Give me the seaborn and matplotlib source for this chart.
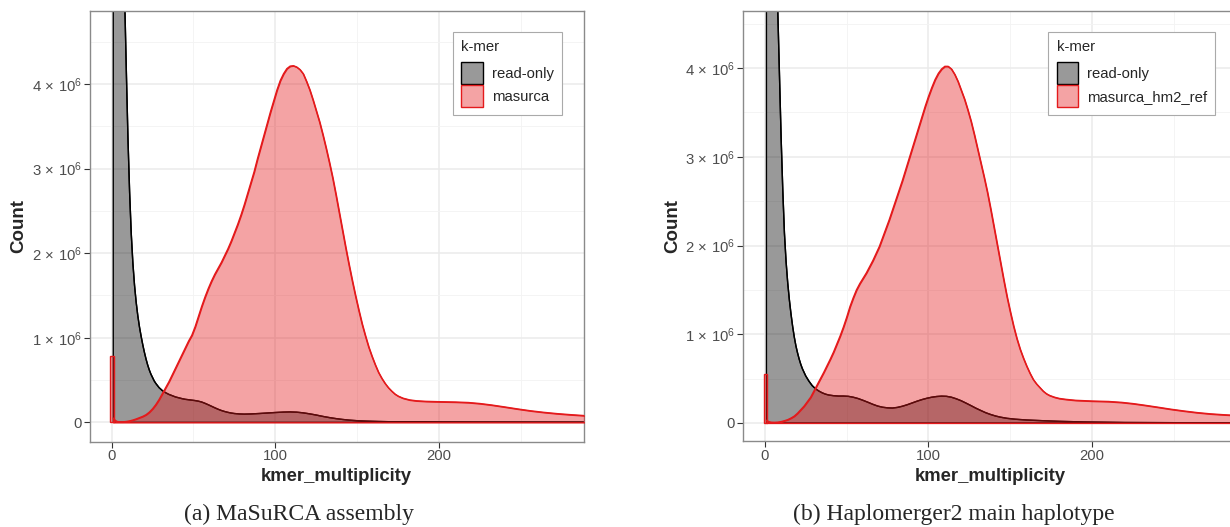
import numpy as np
import pandas as pd
import matplotlib
matplotlib.use("Agg")
import matplotlib.pyplot as plt
import seaborn as sns
from matplotlib.patches import Patch
from matplotlib.ticker import FixedLocator, MultipleLocator

# ---------------- data (counts in units of 1e6) ----------------
# Panel (a) MaSuRCA assembly: read-only k-mers
a_ro_x = [1, 2, 3, 4, 5, 6, 7, 8, 9, 10, 11, 12, 13, 14, 15, 16, 17, 18, 19, 20, 21, 22, 23, 24,
          25, 26, 27, 29, 31, 33, 35, 37, 39, 41, 43, 45, 47, 49, 51, 53, 55, 57, 59, 61, 63, 65,
          67, 69, 71, 73, 75, 78, 81, 85, 90, 95, 100, 105, 109, 113, 117, 121, 125, 129, 133,
          137, 141, 145, 150, 156, 163, 170, 180, 200, 230, 300]
a_ro_y = [150, 60, 25, 14, 9.5, 7.2, 5.9, 5.0, 4.15, 3.35, 2.72, 2.23, 1.88, 1.62, 1.42, 1.26,
          1.13, 1.02, 0.92, 0.83, 0.75, 0.68, 0.62, 0.57, 0.53, 0.49, 0.46, 0.41, 0.375, 0.35,
          0.33, 0.315, 0.30, 0.29, 0.28, 0.272, 0.267, 0.262, 0.257, 0.25, 0.24, 0.225, 0.208,
          0.19, 0.172, 0.155, 0.14, 0.128, 0.118, 0.11, 0.104, 0.099, 0.097, 0.099, 0.104, 0.11,
          0.116, 0.121, 0.123, 0.12, 0.112, 0.10, 0.086, 0.07, 0.056, 0.044, 0.034, 0.026, 0.019,
          0.014, 0.01, 0.007, 0.004, 0.002, 0.001, 0.0]
# Panel (a): assembly k-mers
a_asm_x = [1, 2, 3, 4, 5, 7, 9, 11, 13, 15, 17, 19, 21, 23, 25, 27, 29, 31, 33, 35, 37, 39, 41,
           43, 45, 47, 49, 51, 53, 55, 57, 59, 61, 63, 65, 67, 69, 71, 73, 75, 77, 79, 81, 83, 85,
           87, 89, 91, 93, 95, 97, 99, 101, 103, 105, 107, 109, 111, 113, 115, 117, 119, 121, 123,
           125, 127, 129, 131, 133, 135, 137, 139, 141, 143, 145, 147, 149, 151, 153, 155, 157,
           159, 161, 163, 165, 167, 169, 171, 173, 175, 178, 182, 186, 192, 200, 210, 218, 225,
           232, 240, 248, 256, 264, 272, 280, 290, 300]
a_asm_y = [0.05, 0.025, 0.012, 0.008, 0.006, 0.006, 0.01, 0.017, 0.027, 0.04, 0.055, 0.07, 0.09,
           0.12, 0.16, 0.21, 0.27, 0.34, 0.41, 0.48, 0.56, 0.64, 0.72, 0.80, 0.88, 0.96, 1.03,
           1.13, 1.25, 1.37, 1.48, 1.58, 1.67, 1.75, 1.82, 1.89, 1.97, 2.05, 2.14, 2.24, 2.34,
           2.45, 2.57, 2.70, 2.83, 2.96, 3.11, 3.25, 3.39, 3.53, 3.67, 3.80, 3.93, 4.04, 4.12,
           4.18, 4.21, 4.215, 4.20, 4.17, 4.12, 4.03, 3.93, 3.81, 3.68, 3.55, 3.40, 3.24, 3.07,
           2.89, 2.69, 2.48, 2.27, 2.06, 1.86, 1.67, 1.49, 1.32, 1.16, 1.02, 0.89, 0.78, 0.68,
           0.59, 0.52, 0.46, 0.41, 0.37, 0.335, 0.31, 0.285, 0.265, 0.255, 0.248, 0.244, 0.240,
           0.234, 0.222, 0.205, 0.182, 0.158, 0.136, 0.118, 0.103, 0.091, 0.078, 0.07]
a_zero_x = 0
a_zero_y = 0.784

# Panel (b) Haplomerger2 main haplotype: read-only k-mers
b_ro_x = [1, 2, 3, 4, 5, 6, 7, 8, 9, 10, 11, 12, 13, 14, 15, 16, 17, 18, 19, 20, 21, 22, 23, 24,
          25, 27, 29, 31, 33, 35, 37, 39, 42, 45, 48, 51, 54, 57, 60, 63, 66, 69, 72, 75, 78, 81,
          84, 87, 90, 93, 96, 99, 102, 105, 108, 111, 114, 117, 120, 123, 126, 129, 132, 135,
          138, 141, 144, 148, 153, 160, 170, 180, 195, 220, 260, 300]
b_ro_y = [150, 60, 25, 14, 9.3, 6.9, 5.5, 4.6, 3.9, 3.2, 2.62, 2.14, 1.82, 1.58, 1.39, 1.23,
          1.09, 0.97, 0.87, 0.79, 0.72, 0.66, 0.61, 0.57, 0.53, 0.47, 0.42, 0.385, 0.36, 0.34,
          0.325, 0.315, 0.307, 0.303, 0.303, 0.30, 0.29, 0.275, 0.255, 0.233, 0.21, 0.19, 0.177,
          0.17, 0.168, 0.175, 0.188, 0.205, 0.225, 0.245, 0.263, 0.278, 0.29, 0.298, 0.302, 0.30,
          0.29, 0.272, 0.25, 0.223, 0.195, 0.166, 0.14, 0.115, 0.095, 0.078, 0.065, 0.052, 0.042,
          0.033, 0.025, 0.018, 0.011, 0.005, 0.002, 0.0]
# Panel (b): assembly k-mers
b_asm_x = [1, 2, 3, 4, 6, 8, 10, 12, 14, 16, 18, 20, 22, 24, 26, 28, 30, 32, 34, 36, 38, 40, 42,
           44, 46, 48, 50, 52, 54, 56, 58, 60, 62, 64, 66, 68, 70, 72, 74, 76, 78, 80, 82, 84, 86,
           88, 90, 92, 94, 96, 98, 100, 102, 104, 106, 108, 110, 112, 114, 116, 118, 120, 122,
           124, 126, 128, 130, 132, 134, 136, 138, 140, 142, 144, 146, 148, 150, 152, 154, 156,
           158, 160, 162, 164, 166, 168, 170, 172, 174, 177, 180, 184, 190, 200, 210, 218, 225,
           232, 240, 248, 256, 264, 272, 280, 290, 300]
b_asm_y = [0.03, 0.018, 0.011, 0.008, 0.007, 0.009, 0.015, 0.025, 0.037, 0.055, 0.077, 0.11,
           0.15, 0.19, 0.24, 0.29, 0.36, 0.43, 0.50, 0.57, 0.645, 0.72, 0.80, 0.89, 0.98, 1.08,
           1.19, 1.31, 1.41, 1.50, 1.57, 1.63, 1.69, 1.76, 1.83, 1.91, 1.99, 2.09, 2.19, 2.29,
           2.40, 2.51, 2.62, 2.73, 2.85, 2.97, 3.09, 3.21, 3.33, 3.45, 3.57, 3.68, 3.78, 3.87,
           3.94, 3.99, 4.02, 4.02, 3.99, 3.93, 3.85, 3.75, 3.65, 3.53, 3.40, 3.25, 3.09, 2.93,
           2.77, 2.60, 2.41, 2.21, 2.01, 1.81, 1.61, 1.42, 1.25, 1.09, 0.95, 0.83, 0.73, 0.64,
           0.56, 0.49, 0.44, 0.40, 0.36, 0.33, 0.31, 0.29, 0.276, 0.266, 0.255, 0.247, 0.242,
           0.232, 0.218, 0.20, 0.178, 0.155, 0.135, 0.117, 0.103, 0.093, 0.083, 0.077]
b_zero_x = 0
b_zero_y = 0.548

x_ticks = [0, 100, 200]
y_ticks_m = [0, 1, 2, 3, 4]
y_tick_labels = ["0", r"$1\,\times\,10^{6}$", r"$2\,\times\,10^{6}$", r"$3\,\times\,10^{6}$",
                 r"$4\,\times\,10^{6}$"]
series_names_a = ["read-only", "masurca"]
series_names_b = ["read-only", "masurca_hm2_ref"]
captions = ["(a) MaSuRCA assembly", "(b) Haplomerger2 main haplotype"]

# ---------------- style ----------------
sns.set_theme(style="white")
plt.rcParams["font.family"] = ["Liberation Sans", "DejaVu Sans"]
plt.rcParams["mathtext.fontset"] = "custom"
plt.rcParams["mathtext.rm"] = "Liberation Sans"
plt.rcParams["mathtext.it"] = "Liberation Sans:italic"
plt.rcParams["mathtext.bf"] = "Liberation Sans:bold"

RED = "#E41A1C"
RED_FILL = (228 / 255, 26 / 255, 28 / 255, 0.4)
GRAY_FILL = (0, 0, 0, 0.4)
TICK_COL = "#4D4D4D"

W, H = 1230, 527
fig = plt.figure(figsize=(W / 100, H / 100), dpi=100)


def px_axes(left, top, right, bottom):
    return fig.add_axes([left / W, 1 - bottom / H, (right - left) / W, (bottom - top) / H])


def draw_panel(ax, ro_x, ro_y, asm_x, asm_y, zx, zy, names, ylim, legend_x):
    df_ro = pd.DataFrame({"kmer_multiplicity": ro_x, "Count": np.array(ro_y) * 1e6})
    df_asm = pd.DataFrame({"kmer_multiplicity": asm_x, "Count": np.array(asm_y) * 1e6})
    ax.fill_between(df_ro["kmer_multiplicity"], df_ro["Count"], 0,
                    facecolor=GRAY_FILL, edgecolor="black", linewidth=1.0, zorder=2)
    sns.lineplot(data=df_ro, x="kmer_multiplicity", y="Count", color="black",
                 linewidth=1.0, ax=ax, zorder=2.1, sort=True, estimator=None)
    ax.fill_between(df_asm["kmer_multiplicity"], df_asm["Count"], 0,
                    facecolor=RED_FILL, edgecolor=RED, linewidth=1.0, zorder=3)
    sns.lineplot(data=df_asm, x="kmer_multiplicity", y="Count", color=RED,
                 linewidth=1.0, ax=ax, zorder=3.1, sort=True, estimator=None)
    ax.bar([zx - 0.7], [zy * 1e6], width=2.3, align="edge",
           facecolor=RED_FILL, edgecolor=RED, linewidth=1.0, zorder=3.2)

    ax.set_xlim(-13.5, 288.5)
    ax.set_ylim(*ylim)
    ax.xaxis.set_major_locator(FixedLocator(x_ticks))
    ax.xaxis.set_minor_locator(MultipleLocator(50))
    ax.yaxis.set_major_locator(FixedLocator([v * 1e6 for v in y_ticks_m]))
    ax.yaxis.set_minor_locator(FixedLocator([(v + 0.5) * 1e6 for v in y_ticks_m]))
    ax.set_yticklabels(y_tick_labels)
    ax.set_xticklabels([str(v) for v in x_ticks])
    ax.grid(which="major", color="#EBEBEB", linewidth=1.1, zorder=0)
    ax.grid(which="minor", color="#F3F3F3", linewidth=0.6, zorder=0)
    ax.set_axisbelow(True)
    ax.tick_params(axis="both", which="major", labelsize=10.7, labelcolor=TICK_COL,
                   color="#333333", length=4, width=0.8, pad=1.5, bottom=True, left=True)
    ax.tick_params(axis="both", which="minor", length=0)
    for s in ax.spines.values():
        s.set_color("#8A8A8A")
        s.set_linewidth(1.0)
    ax.set_xlabel("kmer_multiplicity", fontsize=13.3, fontweight="bold", labelpad=3.5)
    ax.set_ylabel("Count", fontsize=13.5, fontweight="bold", labelpad=3)

    handles = [Patch(facecolor=GRAY_FILL, edgecolor="black", linewidth=1.0),
               Patch(facecolor=RED_FILL, edgecolor=RED, linewidth=1.0)]
    leg = ax.legend(handles, names, title="k-mer", loc="upper left",
                    bbox_to_anchor=(legend_x, 0.951), fontsize=10.7, title_fontsize=10.7,
                    frameon=True, fancybox=False, edgecolor="#AAAAAA", framealpha=1,
                    handlelength=1.45, handleheight=1.85, handletextpad=0.6,
                    labelspacing=0.1, borderpad=0.55, borderaxespad=0, alignment="left")
    leg._legend_box.sep = 6
    leg.get_frame().set_linewidth(0.8)
    leg.set_zorder(10)


ax_a = px_axes(89.5, 10.8, 584, 441.7)
draw_panel(ax_a, a_ro_x, a_ro_y, a_asm_x, a_asm_y, a_zero_x, a_zero_y, series_names_a,
           (-0.229e6, 4.864e6), 0.735)
ax_b = px_axes(742.7, 10.8, 1237, 441.3)
draw_panel(ax_b, b_ro_x, b_ro_y, b_asm_x, b_asm_y, b_zero_x, b_zero_y, series_names_b,
           (-0.207e6, 4.646e6), 0.6186)

fig.text(299 / W, 1 - 514 / H, captions[0], ha="center", va="center",
         fontsize=17, family="Liberation Serif")
fig.text(954 / W, 1 - 514 / H, captions[1], ha="center", va="center",
         fontsize=17, family="Liberation Serif")

fig.savefig("out.png", dpi=100)
